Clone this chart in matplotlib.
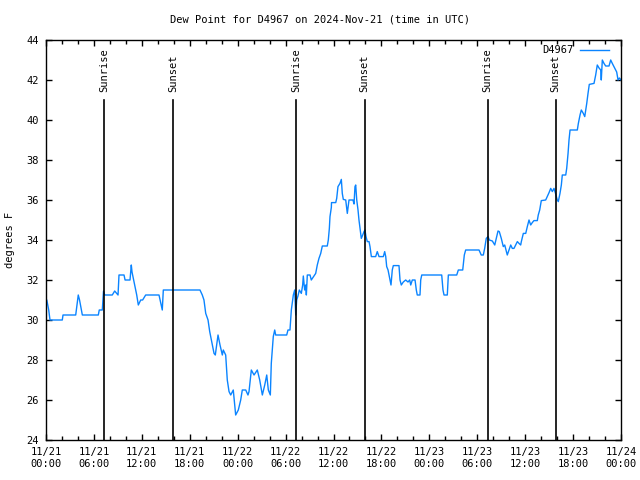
import matplotlib
matplotlib.use("Agg")
import matplotlib.pyplot as plt
from matplotlib.ticker import MultipleLocator, FixedLocator
import datetime as dt

# ---- data (hours since 2024-11-21 00:00 UTC, dew point in F) ----
hours = [0.0, 0.1, 0.34, 0.5, 2.04, 2.13, 3.72, 4.04, 4.2, 4.55, 6.55, 6.67, 7.05, 7.2, 7.35,
         8.30, 8.60, 9.02, 9.14, 9.77, 9.9, 10.52, 10.68, 10.77, 11.11, 11.36, 11.56, 11.86,
         12.1, 12.48, 14.15, 14.56, 14.69, 19.28, 19.57, 19.78, 20.0, 20.29, 20.5, 20.75,
         21.04, 21.2, 21.37, 21.54, 21.79, 22.08, 22.2, 22.5, 22.7, 22.92, 23.13, 23.45,
         23.75, 24.08, 24.38, 24.58, 25.01, 25.29, 25.42, 25.71, 26.05, 26.46, 26.76, 27.09,
         27.39, 27.64, 27.84, 28.09, 28.21, 28.46, 28.64, 28.76, 30.14, 30.3, 30.55, 30.72,
         30.97, 31.14, 31.27, 31.39, 31.55, 31.72, 31.97, 32.14, 32.22, 32.39, 32.52, 32.6,
         32.72, 33.06, 33.22, 33.56, 33.77, 33.97, 34.18, 34.4, 34.6, 35.22, 35.35, 35.48,
         35.56, 35.73, 35.75, 36.28, 36.4, 36.56, 36.81, 36.98, 37.1, 37.23, 37.53, 37.73,
         37.94, 38.44, 38.57, 38.69, 38.78, 38.91, 39.07, 39.19, 39.32, 39.48, 39.66, 39.82,
         39.94, 40.07, 40.23, 40.45, 40.57, 40.74, 41.28, 41.48, 41.7, 42.24, 42.41, 42.54,
         42.66, 42.83, 43.08, 43.2, 43.36, 43.49, 44.2, 44.33, 44.49, 44.74, 45.04, 45.33,
         45.54, 45.67, 45.87, 46.21, 46.37, 46.49, 46.83, 46.92, 47.05, 49.55, 49.71, 49.84,
         50.25, 50.38, 51.43, 51.63, 52.18, 52.38, 52.55, 54.22, 54.5, 54.76, 54.93, 55.13,
         55.35, 55.51, 55.89, 56.19, 56.44, 56.6, 56.76, 57.01, 57.26, 57.44, 57.6, 57.76,
         57.98, 58.19, 58.39, 58.6, 58.81, 59.02, 59.23, 59.44, 59.52, 59.77, 60.07, 60.27,
         60.48, 60.69, 60.89, 61.1, 61.52, 61.64, 61.82, 62.02, 62.57, 62.77, 62.99, 63.2,
         63.4, 63.61, 63.82, 64.02, 64.15, 64.36, 64.53, 64.65, 65.08, 65.2, 65.37, 65.49,
         65.62, 66.53, 66.66, 66.87, 67.03, 67.28, 67.46, 67.71, 67.87, 68.03, 68.62, 68.83,
         69.03, 69.25, 69.46, 69.53, 69.66, 69.87, 70.08, 70.5, 70.71, 70.91, 71.21, 71.46,
         71.63, 71.8, 72.0]
dewpoint = [31.0, 31.0, 30.5, 30.0, 30.0, 30.25, 30.25, 31.25, 31.0, 30.25, 30.25, 30.5, 30.5, 31.45, 31.25,
            31.25, 31.45, 31.25, 32.25, 32.25, 32.0, 32.0, 32.75, 32.4, 31.75, 31.25, 30.75, 31.0,
            31.0, 31.25, 31.25, 30.5, 31.5, 31.5, 31.25, 31.0, 30.33, 30.0, 29.42, 28.92,
            28.33, 28.25, 28.75, 29.25, 28.75, 28.25, 28.5, 28.25, 27.0, 26.42, 26.25, 26.5,
            25.25, 25.5, 26.0, 26.5, 26.5, 26.25, 26.42, 27.5, 27.25, 27.5, 27.0, 26.25,
            26.75, 27.25, 26.5, 26.25, 27.83, 29.17, 29.5, 29.25, 29.25, 29.5, 29.5, 30.5,
            31.25, 31.5, 30.25, 31.0, 31.2, 31.5, 31.33, 31.75, 32.2, 31.5, 31.75, 31.25,
            32.25, 32.25, 32.0, 32.2, 32.33, 32.75, 33.08, 33.33, 33.7, 33.7, 34.0, 34.58,
            35.17, 35.63, 35.87, 35.87, 36.08, 36.67, 36.83, 37.03, 36.33, 36.03, 36.0, 35.33,
            36.0, 36.0, 35.8, 36.67, 36.75, 36.0, 35.5, 35.0, 34.58, 34.08, 34.25, 34.42,
            34.5, 34.17, 33.92, 33.92, 33.67, 33.17, 33.17, 33.42, 33.17, 33.17, 33.42, 33.17,
            32.67, 32.5, 32.0, 31.75, 32.5, 32.72, 32.72, 32.0, 31.75, 31.9, 32.0, 31.9,
            32.0, 31.75, 32.0, 32.0, 31.5, 31.25, 31.25, 32.0, 32.25, 32.25, 31.5, 31.25,
            31.25, 32.25, 32.25, 32.5, 32.5, 33.25, 33.5, 33.5, 33.25, 33.25, 33.58, 34.08,
            34.17, 34.0, 33.95, 33.75, 34.17, 34.45, 34.42, 34.08, 33.67, 33.75, 33.5, 33.25,
            33.5, 33.75, 33.58, 33.58, 33.75, 33.92, 33.83, 33.75, 33.92, 34.33, 34.33, 34.67,
            35.0, 34.75, 34.87, 34.97, 34.97, 35.25, 35.5, 35.97, 36.0, 36.17, 36.37, 36.58,
            36.42, 36.58, 36.3, 36.0, 35.92, 36.33, 36.75, 37.25, 37.25, 37.58, 38.33, 39.0,
            39.5, 39.5, 39.83, 40.25, 40.5, 40.33, 40.17, 40.83, 41.33, 41.78, 41.83, 42.25,
            42.75, 42.6, 42.5, 42.0, 43.0, 42.83, 42.7, 42.7, 43.0, 42.83, 42.6, 42.4,
            42.0, 42.1, 42.0]

sunrise_hours = [7.26, 31.3, 55.3]
sunset_hours = [15.9, 39.9, 63.8]
start = dt.datetime(2024, 11, 21, 0, 0)
tick_hours = list(range(0, 73, 6))
tick_labels = [(start + dt.timedelta(hours=h)).strftime("%m/%d\n%H:%M") for h in tick_hours]
y_ticks = list(range(24, 45, 2))

FONT = "DejaVu Sans Mono"
FS = 7.5

fig = plt.figure(figsize=(6.4, 4.8), dpi=100)
ax = fig.add_axes([46/640, 1 - 440/480, (621-46)/640, 400/480])

ax.plot(hours, dewpoint, color="#0a84ff", lw=1.0, label="D4967")

for h in sunrise_hours:
    ax.plot([h, h], [24, 41.0], color="black", lw=1.2)
    ax.text(h, 41.4, "Sunrise", rotation=90, ha="center", va="bottom",
            fontsize=FS, family=FONT)
for h in sunset_hours:
    ax.plot([h, h], [24, 41.0], color="black", lw=1.2)
    ax.text(h, 41.4, "Sunset", rotation=90, ha="center", va="bottom",
            fontsize=FS, family=FONT)

ax.set_xlim(0, 72)
ax.set_ylim(24, 44)
ax.xaxis.set_major_locator(FixedLocator(tick_hours))
ax.xaxis.set_minor_locator(MultipleLocator(2))
ax.set_xticklabels(tick_labels, family=FONT, fontsize=FS)
ax.set_yticks(y_ticks)
ax.set_yticklabels([str(v) for v in y_ticks], family=FONT, fontsize=FS)
ax.tick_params(which="both", direction="in", top=True, right=True, width=1)
ax.tick_params(which="major", length=4, pad=5)
ax.tick_params(which="minor", length=3)
for s in ax.spines.values():
    s.set_linewidth(1.0)

fig.text(10/640, 0.5, "degrees F", rotation=90, ha="center", va="center",
         family=FONT, fontsize=FS)
fig.text(0.5, 1 - 20/480, "Dew Point for D4967 on 2024-Nov-21 (time in UTC)",
         ha="center", va="center", family=FONT, fontsize=FS)

# legend (gnuplot style, top-right inside)
leg = ax.legend(loc="upper right", frameon=False, handlelength=2.8,
                prop={"family": FONT, "size": FS}, markerfirst=False,
                bbox_to_anchor=(1 - 7/575, 1.0),
                borderaxespad=0.2, borderpad=0.3, handletextpad=0.6)

fig.savefig("out.png", dpi=100)
